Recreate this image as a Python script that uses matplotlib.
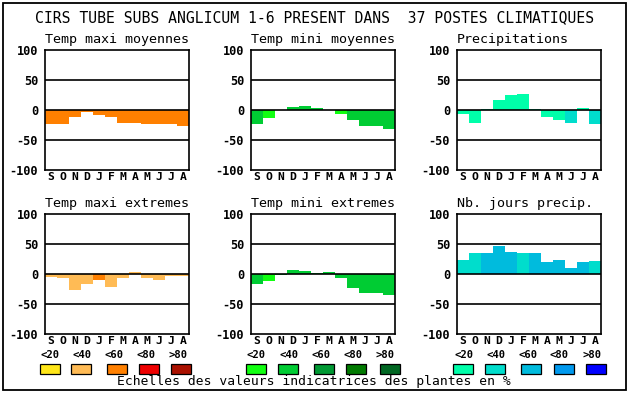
import matplotlib
matplotlib.use('Agg')
import matplotlib.pyplot as plt
from matplotlib.patches import Rectangle

# data
months = ['S', 'O', 'N', 'D', 'J', 'F', 'M', 'A', 'M', 'J', 'J', 'A']
titles = ['Temp maxi moyennes', 'Temp mini moyennes', 'Precipitations',
          'Temp maxi extremes', 'Temp mini extremes', 'Nb. jours precip.']

tmax_moy = [-23, -24, -12, -4, -8, -12, -22, -21, -24, -23, -24, -27]
tmin_moy = [-24, -14, 0, 5, 7, 4, 0, -7, -17, -27, -27, -31]
precip = [-6, -21, 2, 17, 25, 27, 2, -12, -17, -22, 4, -24]
tmax_ext = [-5, -7, -27, -17, -10, -22, -7, 4, -7, -10, -4, -4]
tmin_ext = [-17, -12, -2, 7, 5, 2, 4, -7, -24, -32, -32, -35]
nb_jours = [24, 35, 35, 47, 37, 35, 35, 20, 24, 10, 20, 22]

# colour class of each bar (index into the scale)
lvl_tmax_moy = [2] * 12
lvl_tmin_moy = [1, 0, 1, 1, 1, 1, 1, 0, 1, 1, 1, 1]
lvl_precip = [0, 0, 0, 0, 0, 0, 0, 0, 0, 1, 0, 1]
lvl_tmax_ext = [1, 1, 1, 1, 2, 1, 1, 1, 1, 1, 1, 1]
lvl_tmin_ext = [1, 0, 1, 1, 1, 1, 1, 1, 1, 1, 1, 1]
lvl_nb_jours = [1, 1, 2, 2, 2, 1, 2, 2, 2, 2, 2, 1]

scale_labels = ['<20', '<40', '<60', '<80', '>80']
warm = ['#FFE619', '#FFBB55', '#FF8000', '#EE0000', '#AA1100']
green = ['#11FF11', '#00CC33', '#009933', '#007A00', '#006622']
blue = ['#00FFAA', '#00DDCC', '#00BBDD', '#0099EE', '#0000FF']

series = [tmax_moy, tmin_moy, precip, tmax_ext, tmin_ext, nb_jours]
levels = [lvl_tmax_moy, lvl_tmin_moy, lvl_precip, lvl_tmax_ext, lvl_tmin_ext, lvl_nb_jours]
palettes = [warm, green, blue, warm, green, blue]

W, H = 630, 394
fig = plt.figure(figsize=(W / 100, H / 100), dpi=100)
mono = 'DejaVu Sans Mono'

# outer frame and text, in pixel coords
bg = fig.add_axes([0, 0, 1, 1])
bg.set_xlim(0, W)
bg.set_ylim(H, 0)
bg.axis('off')
bg.add_patch(Rectangle((3, 3), 623, 387, fill=False, lw=1.3, ec='black'))
bg.text(315, 18, 'CIRS TUBE SUBS ANGLICUM 1-6 PRESENT DANS  37 POSTES CLIMATIQUES',
        ha='center', va='center', family=mono, fontsize=10.6)
bg.text(314, 382, 'Echelles des valeurs indicatrices des plantes en %',
        ha='center', va='center', family=mono, fontsize=9.4)

cols = [45, 251, 457]
rows = [50, 214]
aw, ah = 144, 120

for i in range(6):
    x0 = cols[i % 3]
    y0 = rows[i // 3]
    ax = fig.add_axes([x0 / W, (H - y0 - ah) / H, aw / W, ah / H])
    colors = [palettes[i][k] for k in levels[i]]
    ax.bar(range(12), series[i], width=1.0, color=colors, zorder=2)
    for y in (-50, 0, 50):
        ax.axhline(y, color='black', lw=1.2, zorder=3)
    ax.set_xlim(-0.5, 11.5)
    ax.set_ylim(-100, 100)
    ax.set_yticks([100, 50, 0, -50, -100])
    ax.set_yticklabels(['100', '50', '0', '-50', '-100'], family=mono,
                       fontweight='bold', fontsize=8.6)
    ax.set_xticks(range(12))
    ax.set_xticklabels(months, family=mono, fontweight='bold', fontsize=8.2)
    ax.tick_params(length=0, pad=1.5)
    ax.tick_params(axis='y', pad=5)
    for s in ax.spines.values():
        s.set_linewidth(1.2)
    ax.text(0, 1.03, titles[i], transform=ax.transAxes, ha='left', va='bottom',
            family=mono, fontsize=9.6)

# colour scales under the bottom row
box_x = [[40, 71, 107, 139, 171], [246, 278, 314, 346, 380], [453, 485, 521, 554, 586]]
lab_x = [[50, 82, 114, 146, 178], [256, 289, 321, 353, 385], [464, 496, 528, 559, 592]]
for g, pal in enumerate([warm, green, blue]):
    for k in range(5):
        bx = box_x[g][k]
        bg.add_patch(Rectangle((bx, 364), 20, 10, fc=pal[k], ec='black', lw=0.9))
        bg.text(lab_x[g][k], 355, scale_labels[k], ha='center', va='center',
                family=mono, fontweight='bold', fontsize=7.6)

fig.savefig('out.png', dpi=100)
